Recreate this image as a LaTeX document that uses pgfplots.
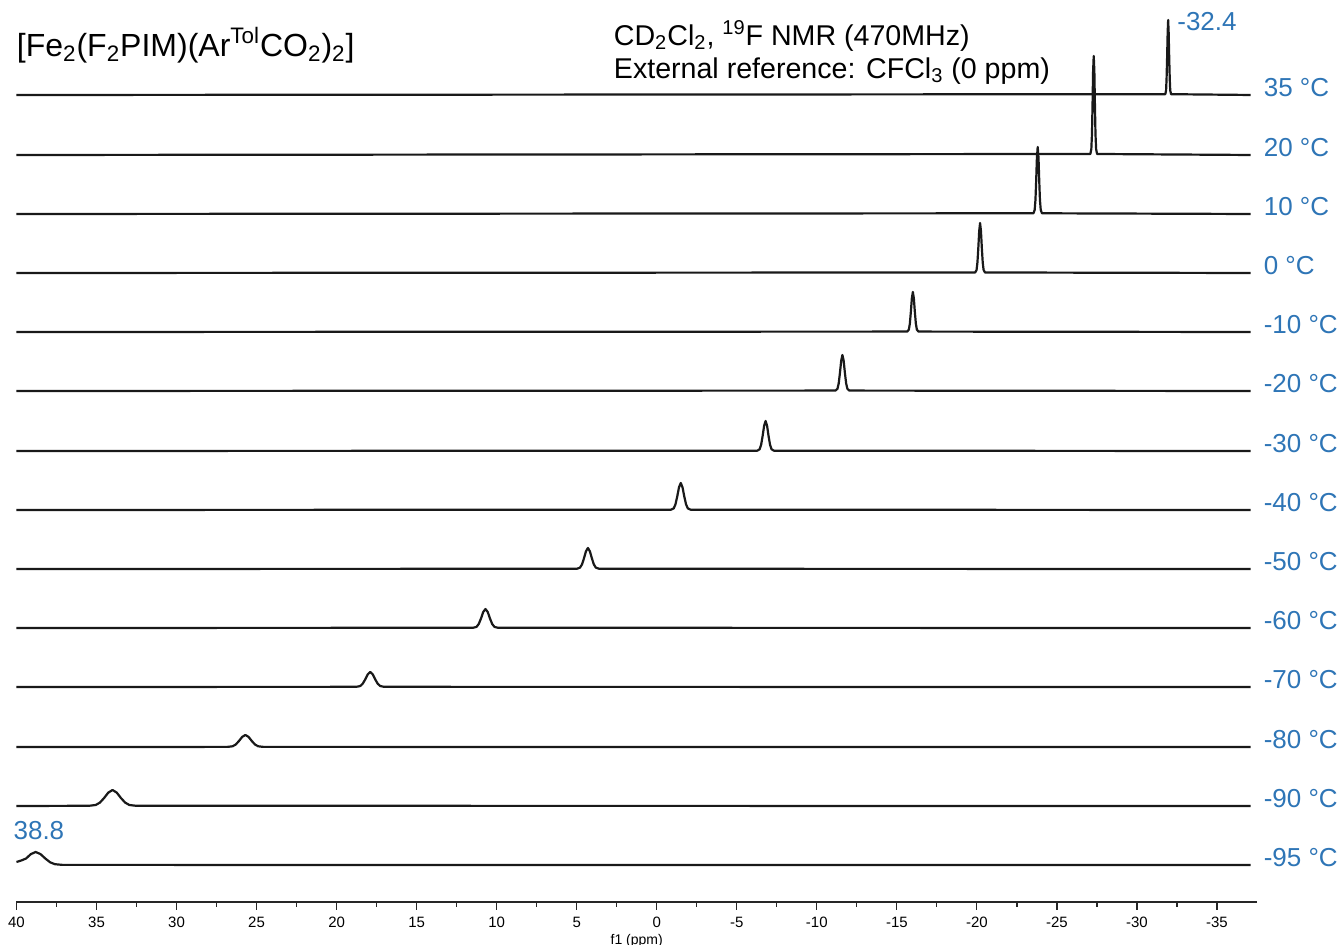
\documentclass[border=0pt]{standalone}
\usepackage{pgfplots}
\pgfplotsset{compat=1.18}
\usepackage{fontspec}
\setmainfont{Liberation Sans}
\definecolor{lblue}{RGB}{46,117,182}
\begin{document}
\begin{tikzpicture}
\useasboundingbox (-8.25pt,-21.5pt) rectangle (663.75pt,451pt);
\begin{axis}[
  at={(0,0)}, anchor=south west,
  scale only axis, width=620.25pt, height=451pt,
  x dir=reverse, xmin=-37.5, xmax=40, ymin=0, ymax=902,
  axis x line*=bottom, axis y line=none,
  xtick={-35,-30,...,40}, minor x tick num=1,
  tick align=outside, major tick length=4pt, minor tick length=2.5pt,
  tick style={black!85, line width=0.6pt},
  axis line style={black!85, line width=0.6pt},
  x tick label style={font=\fontsize{7.5}{8}\selectfont},
  /pgf/number format/assume math mode=true,
  xlabel={f1 (ppm)}, xlabel style={font=\fontsize{7}{8}\selectfont, yshift=3.5pt},
  clip=false,
  spec/.style={black!90, line width=1.1pt, line join=round, mark=none, solid},
]
% 35 C
\addplot[spec] coordinates {(40,807) (-31.77,807.8) (-31.82,811.5) (-31.85,822.8) (-31.885,844.5) (-31.92,870) (-31.95,882) (-31.98,870) (-32.015,844.5) (-32.05,822.8) (-32.08,811.5) (-32.13,807.8) (-37.1,807)};
% 20 C
\addplot[spec] coordinates {(40,747) (-27.09,748) (-27.15,752.9) (-27.19,767.8) (-27.225,796.5) (-27.26,830.2) (-27.3,846) (-27.34,830.2) (-27.375,796.5) (-27.41,767.8) (-27.45,752.9) (-27.51,748) (-37.1,747)};
% 10 C
\addplot[spec] coordinates {(40,688) (-23.534,688.7) (-23.61,692) (-23.66,702.1) (-23.705,721.5) (-23.75,744.3) (-23.8,755) (-23.85,744.3) (-23.895,721.5) (-23.94,702.1) (-23.99,692) (-24.066,688.7) (-37.1,688)};
% 0 C
\addplot[spec] coordinates {(40,629) (-19.892,629.5) (-19.98,632) (-20.035,639.5) (-20.09,654) (-20.145,671) (-20.2,679) (-20.255,671) (-20.31,654) (-20.365,639.5) (-20.42,632) (-20.508,629.5) (-37.1,629)};
% -10 C
\addplot[spec] coordinates {(40,570) (-15.65,570.4) (-15.75,572.4) (-15.8125,578.4) (-15.875,590) (-15.9375,603.6) (-16,610) (-16.0625,603.6) (-16.125,590) (-16.1875,578.4) (-16.25,572.4) (-16.35,570.4) (-37.1,570)};
% -20 C
\addplot[spec] coordinates {(40,511) (-11.166,511.4) (-11.29,513.2) (-11.3675,518.6) (-11.445,529) (-11.5225,541.2) (-11.6,547) (-11.6775,541.2) (-11.755,529) (-11.8325,518.6) (-11.91,513.2) (-12.034,511.4) (-37.1,511)};
% -30 C
\addplot[spec] coordinates {(40,451) (-6.282,451.3) (-6.43,452.8) (-6.5225,457.3) (-6.615,466) (-6.7075,476.2) (-6.8,481) (-6.8925,476.2) (-6.985,466) (-7.0775,457.3) (-7.17,452.8) (-7.318,451.3) (-37.1,451)};
% -40 C
\addplot[spec] coordinates {(40,392) (-0.884,392.3) (-1.06,393.6) (-1.17,397.7) (-1.28,405.5) (-1.39,414.7) (-1.5,419) (-1.61,414.7) (-1.72,405.5) (-1.83,397.7) (-1.94,393.6) (-2.116,392.3) (-37.1,392)};
% -50 C
\addplot[spec] coordinates {(40,333) (5.0,333.2) (4.8,334.3) (4.675,337.4) (4.55,343.5) (4.425,350.6) (4.3,354) (4.175,350.6) (4.05,343.5) (3.925,337.4) (3.8,334.3) (3.6,333.2) (-37.1,333)};
% -60 C
\addplot[spec] coordinates {(40,274) (11.484,274.2) (11.26,275.1) (11.12,278) (10.98,283.5) (10.84,290) (10.7,293) (10.56,290) (10.42,283.5) (10.28,278) (10.14,275.1) (9.916,274.2) (-37.1,274)};
% -70 C
\addplot[spec] coordinates {(40,215) (18.782,215.15) (18.53,215.9) (18.3725,218.2) (18.215,222.5) (18.0575,227.6) (17.9,230) (17.7425,227.6) (17.585,222.5) (17.4275,218.2) (17.27,215.9) (17.018,215.15) (-37.1,215)};
% -80 C
\addplot[spec] coordinates {(40,155) (26.82,155.1) (26.5,155.7) (26.3,157.5) (26.1,161) (25.9,165.1) (25.7,167) (25.5,165.1) (25.3,161) (25.1,157.5) (24.9,155.7) (24.58,155.1) (-37.1,155)};
% -90 C
\addplot[spec] coordinates {(40,96) (35.47,96.2) (35.05,97) (34.7875,99.4) (34.525,104) (34.2625,109.4) (34.0,112) (33.7375,109.4) (33.475,104) (33.2125,99.4) (32.95,97) (32.53,96.2) (-37.1,96)};
% -95 C
\addplot[spec] coordinates {(40,40) (39.7,41.5) (39.4,43.5) (39.1,47.9) (38.8,50) (38.5,47.9) (38.2,43.5) (37.9,39.7) (37.6,37.8) (37.12,37.1) (-37.1,37)};

% labels
\foreach \t/\b in {35/807,20/747,10/688,0/629,-10/570,-20/511,-30/451,-40/392,-50/333,-60/274,-70/215,-80/155,-90/96,-95/37}{
  \edef\temp{\noexpand\node[anchor=west, text=lblue, font=\noexpand\fontsize{13}{15}\noexpand\selectfont, inner sep=0pt] at (axis cs:-37.9,\b+7) {\t\space°C};}
  \temp
}
\node[anchor=west, text=lblue, font=\fontsize{13}{15}\selectfont, inner sep=0pt] at (axis cs:-32.5,880) {-32.4};
\node[anchor=center, text=lblue, font=\fontsize{13}{15}\selectfont, inner sep=0pt] at (axis cs:38.6,71) {38.8};
\node[anchor=west, font=\fontsize{16}{19}\selectfont, inner sep=0pt] at (axis cs:40,857) {[Fe\textsubscript{2}(F\textsubscript{2}PIM)(Ar\textsuperscript{Tol}CO\textsubscript{2})\textsubscript{2}]};
\node[anchor=west, font=\fontsize{14.3}{17}\selectfont, inner sep=0pt] at (axis cs:2.7,866) {CD\textsubscript{2}Cl\textsubscript{2}, \textsuperscript{19}F NMR (470MHz)};
\node[anchor=west, font=\fontsize{14.3}{17}\selectfont, inner sep=0pt] at (axis cs:2.7,831) {External reference: CFCl\textsubscript{3} (0 ppm)};
\end{axis}
\end{tikzpicture}
\end{document}
